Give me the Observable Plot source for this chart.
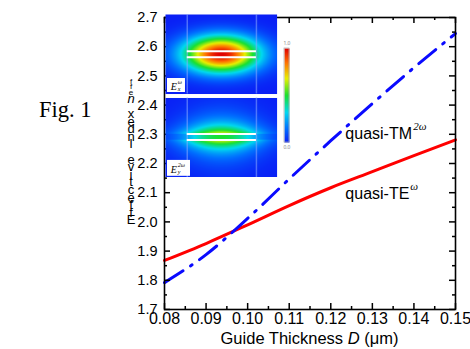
<!DOCTYPE html>
<html><head><meta charset="utf-8">
<script src="https://cdn.jsdelivr.net/npm/d3@7"></script>
<script src="https://cdn.jsdelivr.net/npm/@observablehq/plot@0.6"></script>
<style>
body{margin:0;background:#fff;}
#wrap{position:relative;width:470px;height:349px;overflow:hidden;font-family:"Liberation Sans",Arial,sans-serif;color:#000;}
#main{position:absolute;left:0;top:0;}
#inset{position:absolute;left:165px;top:14px;}
#fig{position:absolute;left:39px;top:97px;font-family:"Liberation Serif","Times New Roman",serif;font-size:22.5px;}
#xlab{position:absolute;left:164px;width:291px;top:329px;text-align:center;font-size:16.5px;line-height:18px;}
#ylab{position:absolute;left:123px;width:16px;bottom:125px;display:flex;flex-direction:column-reverse;align-items:center;font-size:13px;}
#ylab span{display:block;line-height:7.6px;height:7.6px;white-space:pre;}
#ylab span.s{font-size:8px;line-height:5.3px;height:5.3px;}
</style></head><body><div id="wrap">
<div id="main"></div><div id="inset"></div>
<div id="fig">Fig. 1</div>
<div id="xlab">Guide Thickness <i>D</i> (μm)</div>
<div id="ylab"></div>
</div>
<script>
// ---- data ----
const thickness = [0.08, 0.09, 0.10, 0.11, 0.12, 0.13, 0.14, 0.15];
const quasiTE   = [1.868, 1.926, 1.990, 2.056, 2.117, 2.172, 2.227, 2.281];
const quasiTM   = [1.792, 1.888, 2.012, 2.147, 2.278, 2.405, 2.528, 2.645];
const xTicks = [0.08, 0.09, 0.10, 0.11, 0.12, 0.13, 0.14, 0.15];
const xMinor = [0.085, 0.095, 0.105, 0.115, 0.125, 0.135, 0.145];
const yTicks = [1.7, 1.8, 1.9, 2.0, 2.1, 2.2, 2.3, 2.4, 2.5, 2.6, 2.7];
const yMinor = [1.75, 1.85, 1.95, 2.05, 2.15, 2.25, 2.35, 2.45, 2.55, 2.65];
const seriesNames = ["quasi-TM", "quasi-TE"];
const seriesSup = ["2ω", "ω"];
const labelX = [0.1235, 0.1235];
const labelY = [2.303, 2.097];
const yTitle = "Effective Index ";
const yTitleVar = "n";
const yTitleSub = "eff";
const colorbarLabels = ["1.0", "0.0"];
const panelLabels = [["E", "x", "ω"], ["E", "y", "2ω"]];

// ---- main chart ----
const W = 470, H = 349, mL = 164, mR = 15, mT = 17, mB = 40;
const iw = W - mL - mR, ih = H - mT - mB;
const te = thickness.map((d, i) => ({x: d, y: quasiTE[i]}));
const tm = thickness.map((d, i) => ({x: d, y: quasiTM[i]}));
const labels = seriesNames.map((t, i) => ({t, s: seriesSup[i], x: labelX[i], y: labelY[i]}));
const tickStyle = {stroke: "#000", strokeWidth: 1.5};
const supStyle = {x: "x", y: "y", text: "s", textAnchor: "start", fontSize: 11, fontStyle: "italic", fill: "#000", dy: -7,
  fontFamily: "'Liberation Serif', serif"};

const main = Plot.plot({
  width: W, height: H, marginLeft: mL, marginRight: mR, marginTop: mT, marginBottom: mB,
  style: {fontFamily: "'Liberation Sans', Arial, sans-serif", color: "#000", background: "transparent"},
  x: {domain: [0.08, 0.15]},
  y: {domain: [1.7, 2.7]},
  marks: [
    Plot.line(te, {x: "x", y: "y", stroke: "#ff0000", strokeWidth: 3, curve: "monotone-x"}),
    Plot.line(tm, {x: "x", y: "y", stroke: "#0a0aff", strokeWidth: 3, strokeDasharray: "22,9,2,9", curve: "monotone-x"}),
    Plot.ruleX(xTicks, {...tickStyle, insetTop: ih - 6}),
    Plot.ruleX(xTicks, {...tickStyle, insetBottom: ih - 6}),
    Plot.ruleX(xMinor, {...tickStyle, insetTop: ih - 3}),
    Plot.ruleX(xMinor, {...tickStyle, insetBottom: ih - 3}),
    Plot.ruleY(yTicks, {...tickStyle, insetRight: iw - 6}),
    Plot.ruleY(yTicks, {...tickStyle, insetLeft: iw - 6}),
    Plot.ruleY(yMinor, {...tickStyle, insetRight: iw - 3}),
    Plot.ruleY(yMinor, {...tickStyle, insetLeft: iw - 3}),
    Plot.frame({stroke: "#000", strokeWidth: 1.6}),
    Plot.axisX(xTicks, {tickSize: 0, tickPadding: 3, fontSize: 16, tickFormat: d => d.toFixed(2), label: null}),
    Plot.axisY(yTicks, {tickSize: 0, tickPadding: 7, fontSize: 14.5, tickFormat: d => d.toFixed(1), label: null}),
    Plot.text(labels, {x: "x", y: "y", text: "t", textAnchor: "start", fontSize: 16, fill: "#000"}),
    Plot.text([labels[0]], {...supStyle, dx: 68}),
    Plot.text([labels[1]], {...supStyle, dx: 65})
  ]
});
document.getElementById("main").appendChild(main);

// ---- y title: upright glyphs stacked bottom-to-top ----
const yl = document.getElementById("ylab");
for (const ch of yTitle) { const s = document.createElement("span"); s.textContent = ch; yl.appendChild(s); }
{ const s = document.createElement("span"); s.textContent = yTitleVar; s.style.fontStyle = "italic"; yl.appendChild(s); }
for (const ch of yTitleSub) { const s = document.createElement("span"); s.className = "s"; s.textContent = ch; yl.appendChild(s); }

// ---- inset: mode field maps ----
const topC = 1.05, botC = -1.03, core = 0.075;
const sq = v => v * v;
const fieldTop = (x, y) => Math.exp(-sq(x / 0.68) - sq((y - topC) / 0.46));
const fieldBot = (x, y) => {
  const a = Math.abs(y - botC);
  const v = a < core ? 0.5 : 0.7 * Math.exp(-(a - core) / 0.3);
  return v * Math.exp(-sq(x / 0.72));
};
const cbTop = 1.195, cbBot = -1.17;
const cbFill = (x, y) => Math.max(0, Math.min(1, (y - cbBot) / (cbTop - cbBot)));
const guideEdges = [-0.61, 0.63];
const bars = [topC + core, topC - core, botC + core, botC - core];
const boxes = [{x1: -0.964, x2: -0.642, y1: 0.088, y2: 0.44}, {x1: -0.964, x2: -0.552, y1: -2.02, y2: -1.62}];
const boxText = boxes.map((b, i) => ({x: b.x1 + 0.06, y: (b.y1 + b.y2) / 2, e: panelLabels[i][0], sub: panelLabels[i][1], sup: panelLabels[i][2]}));

const inset = Plot.plot({
  width: 135, height: 163, margin: 0,
  style: {background: "transparent"},
  x: {domain: [-1, 1.42], axis: null},
  y: {domain: [-2.05, 2.05], axis: null},
  color: {type: "linear", domain: [0, 0.15, 0.32, 0.5, 0.68, 0.85, 1],
          range: ["#0a1ef5", "#0070ff", "#00d8f0", "#18e030", "#e8f000", "#ff7000", "#e00000"], clamp: true},
  marks: [
    Plot.raster({fill: fieldTop, x1: -1, x2: 1, y1: 0.05, y2: 2.05, pixelSize: 1, imageRendering: "auto"}),
    Plot.raster({fill: fieldBot, x1: -1, x2: 1, y1: -2.05, y2: -0.05, pixelSize: 1, imageRendering: "auto"}),
    Plot.ruleX(guideEdges, {y1: 0.05, y2: 2.05, stroke: "#8aa8ff", strokeOpacity: 0.55, strokeWidth: 1.5}),
    Plot.ruleX(guideEdges, {y1: -2.05, y2: -0.05, stroke: "#8aa8ff", strokeOpacity: 0.55, strokeWidth: 1.5}),
    Plot.ruleY(bars, {x1: guideEdges[0], x2: guideEdges[1], stroke: "#fff", strokeWidth: 2}),
    Plot.rect(boxes, {x1: "x1", x2: "x2", y1: "y1", y2: "y2", fill: "#fff"}),
    Plot.text(boxText, {x: "x", y: "y", text: "e", textAnchor: "start", fontSize: 10, fontStyle: "italic", fontFamily: "'Liberation Serif', serif", fill: "#000", dy: 1}),
    Plot.text(boxText, {x: "x", y: "y", text: "sub", textAnchor: "start", fontSize: 6, fontStyle: "italic", fontFamily: "'Liberation Serif', serif", fill: "#000", dx: 7, dy: 4}),
    Plot.text(boxText, {x: "x", y: "y", text: "sup", textAnchor: "start", fontSize: 6, fontStyle: "italic", fontFamily: "'Liberation Serif', serif", fill: "#000", dx: 7, dy: -3}),
    Plot.raster({fill: cbFill, x1: 1.133, x2: 1.222, y1: cbBot, y2: cbTop, pixelSize: 1}),
    Plot.rect([{x1: 1.133, x2: 1.222, y1: cbBot, y2: cbTop}], {x1: "x1", x2: "x2", y1: "y1", y2: "y2", stroke: "#aaa", strokeWidth: 0.7, fill: "none"}),
    Plot.text(colorbarLabels, {x: 1.177, y: (d, i) => i === 0 ? cbTop + 0.12 : cbBot - 0.12, text: d => d, fontSize: 5, fill: "#888"})
  ]
});
document.getElementById("inset").appendChild(inset);
</script></body></html>
